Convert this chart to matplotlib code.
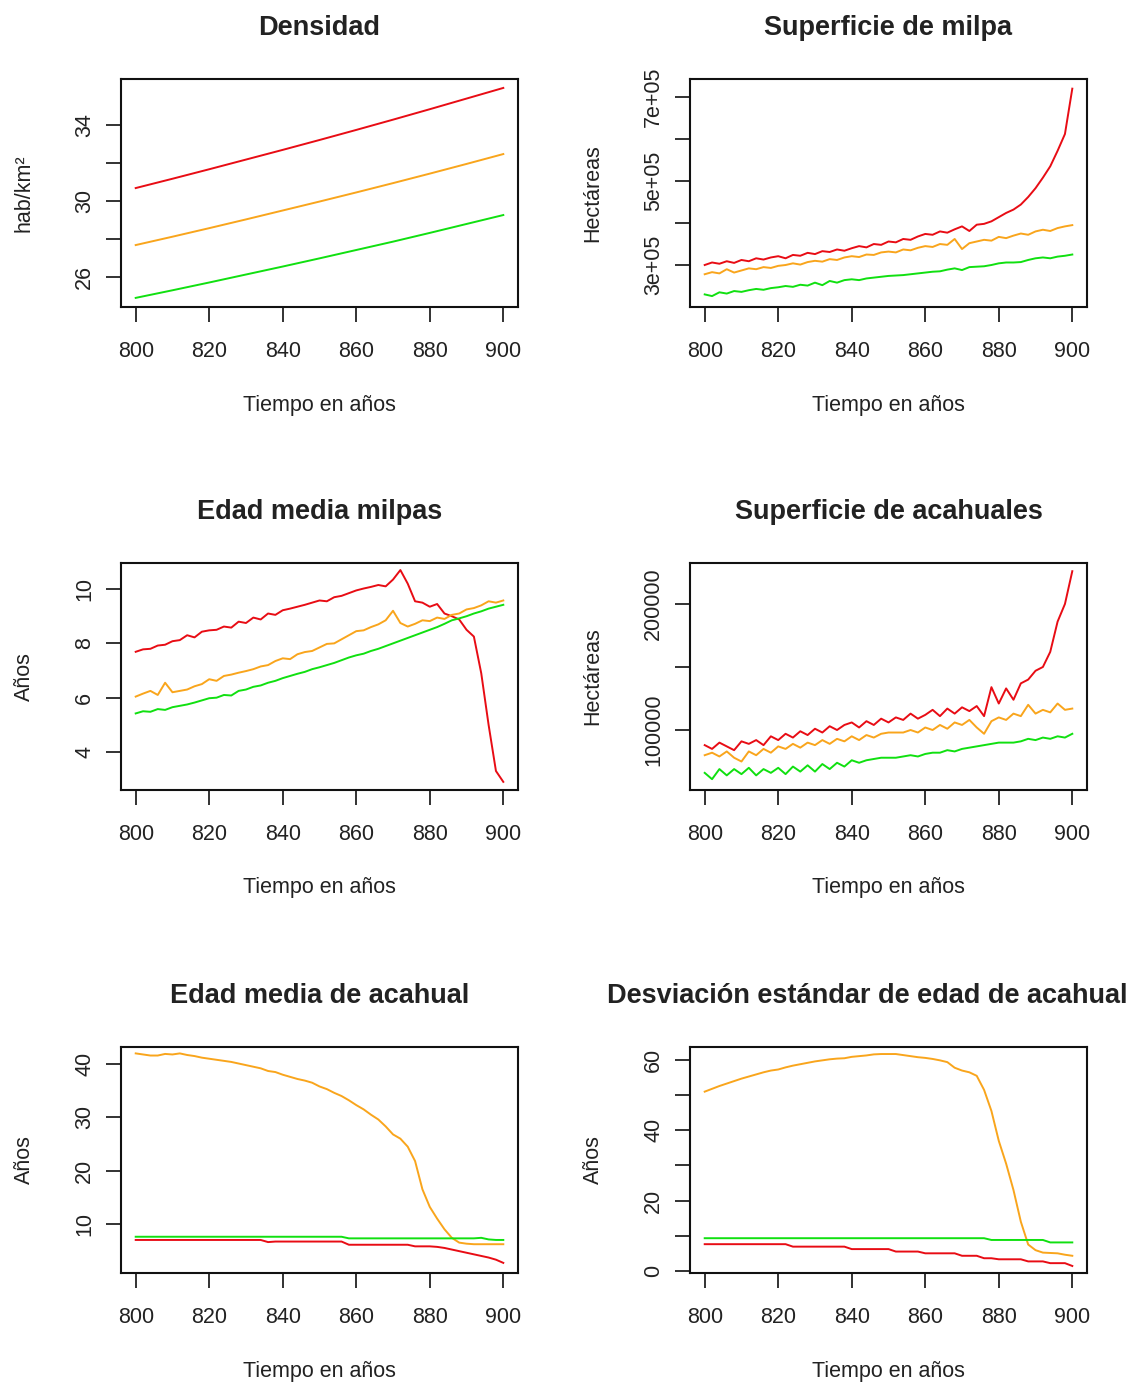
import numpy as np
from matplotlib import pyplot as plt

plt.rcParams['font.family'] = ['Liberation Sans', 'DejaVu Sans']

# time axis
years10 = [800, 810, 820, 830, 840, 850, 860, 870, 880, 890, 900]
years2 = np.arange(800, 901, 2)

# Densidad (hab/km2)
dens_red = [30.68, 31.17, 31.67, 32.18, 32.69, 33.21, 33.74, 34.28, 34.83, 35.39, 35.95]
dens_orange = [27.68, 28.12, 28.57, 29.03, 29.50, 29.97, 30.45, 30.94, 31.44, 31.95, 32.47]
dens_green = [24.90, 25.30, 25.71, 26.13, 26.55, 26.98, 27.42, 27.86, 28.32, 28.79, 29.26]

# Superficie de milpa (miles de ha)
milpa_red = [300, 306, 303, 309, 305, 312, 309, 316, 313, 318,
             321, 316, 324, 322, 329, 326, 333, 331, 337, 334,
             340, 345, 342, 350, 348, 356, 354, 362, 360, 368,
             374, 372, 380, 377, 385, 392, 381, 396, 398, 404,
             414, 424, 432, 444, 462, 483, 508, 535, 572, 612,
             720]
milpa_orange = [278, 283, 280, 290, 282, 287, 292, 290, 295, 293,
                298, 300, 304, 301, 307, 310, 308, 314, 312, 318,
                321, 319, 325, 324, 330, 332, 330, 337, 335, 341,
                345, 343, 350, 348, 362, 338, 352, 356, 360, 358,
                367, 364, 370, 375, 372, 380, 384, 381, 388, 392,
                395]
milpa_green = [230, 226, 235, 232, 238, 236, 240, 243, 241, 245,
               247, 250, 248, 253, 251, 258, 252, 262, 258, 264,
               266, 264, 268, 270, 272, 274, 275, 276, 278, 280,
               282, 284, 285, 289, 292, 288, 295, 296, 297, 300,
               304, 306, 306, 307, 312, 316, 318, 316, 320, 322,
               325]

# Edad media milpas (años)
emil_red = [7.69, 7.78, 7.80, 7.92, 7.95, 8.08, 8.12, 8.30, 8.22, 8.43,
            8.48, 8.50, 8.62, 8.58, 8.80, 8.75, 8.95, 8.88, 9.10, 9.05,
            9.22, 9.28, 9.35, 9.42, 9.50, 9.58, 9.55, 9.70, 9.75, 9.85,
            9.95, 10.02, 10.08, 10.15, 10.10, 10.35, 10.70, 10.20, 9.55, 9.50,
            9.35, 9.45, 9.10, 9.00, 8.88, 8.50, 8.25, 6.90, 5.00, 3.30,
            2.90]
emil_orange = [6.04, 6.15, 6.25, 6.10, 6.55, 6.20, 6.25, 6.30, 6.42, 6.50,
               6.68, 6.62, 6.80, 6.85, 6.92, 6.98, 7.05, 7.15, 7.20, 7.35,
               7.45, 7.42, 7.60, 7.68, 7.72, 7.85, 7.98, 8.00, 8.15, 8.30,
               8.45, 8.48, 8.60, 8.70, 8.85, 9.20, 8.75, 8.62, 8.72, 8.85,
               8.82, 8.95, 8.90, 9.05, 9.10, 9.25, 9.30, 9.40, 9.55, 9.50,
               9.58]
emil_green = [5.42, 5.50, 5.48, 5.58, 5.55, 5.65, 5.70, 5.75, 5.82, 5.90,
              5.98, 6.00, 6.10, 6.08, 6.25, 6.30, 6.40, 6.45, 6.55, 6.62,
              6.72, 6.80, 6.88, 6.95, 7.05, 7.12, 7.20, 7.28, 7.38, 7.48,
              7.56, 7.62, 7.72, 7.80, 7.90, 8.00, 8.10, 8.20, 8.30, 8.40,
              8.50, 8.60, 8.72, 8.85, 8.92, 9.00, 9.10, 9.18, 9.28, 9.35,
              9.42]

# Superficie de acahuales (miles de ha)
acah_red = [88, 85, 90, 87, 84, 91, 89, 92, 88, 95,
            92, 97, 94, 99, 96, 101, 98, 103, 100, 104,
            106, 102, 107, 104, 109, 106, 110, 108, 113, 109,
            112, 116, 111, 117, 113, 118, 115, 119, 111, 134,
            121, 133, 124, 137, 140, 147, 150, 162, 186, 200,
            226]
acah_orange = [80, 82, 79, 83, 78, 75, 83, 80, 85, 82,
               87, 85, 89, 86, 90, 88, 92, 89, 93, 91,
               95, 92, 96, 94, 97, 98, 98, 98, 100, 98,
               102, 100, 104, 101, 106, 104, 108, 102, 97, 107,
               110, 108, 113, 111, 120, 113, 116, 114, 121, 116,
               117]
acah_green = [66, 61, 69, 64, 69, 65, 70, 64, 69, 66,
              70, 65, 71, 67, 72, 67, 73, 69, 74, 71,
              76, 74, 76, 77, 78, 78, 78, 79, 80, 79,
              81, 82, 82, 84, 83, 85, 86, 87, 88, 89,
              90, 90, 90, 91, 93, 92, 94, 93, 95, 94,
              97]

# Edad media de acahual (años)
eaca_orange = [42.0, 41.8, 41.6, 41.6, 41.9, 41.8, 42.0, 41.7, 41.5, 41.2,
               41.0, 40.8, 40.6, 40.4, 40.1, 39.8, 39.5, 39.2, 38.7, 38.5,
               38.0, 37.6, 37.2, 36.9, 36.5, 35.8, 35.3, 34.6, 34.0, 33.2,
               32.3, 31.5, 30.5, 29.6, 28.3, 26.8, 26.0, 24.5, 21.8, 16.5,
               13.2, 11.0, 9.0, 7.4, 6.5, 6.3, 6.2, 6.2, 6.2, 6.2,
               6.2]
eaca_green = [7.6, 7.6, 7.6, 7.6, 7.6, 7.6, 7.6, 7.6, 7.6, 7.6,
              7.6, 7.6, 7.6, 7.6, 7.6, 7.6, 7.6, 7.6, 7.6, 7.6,
              7.6, 7.6, 7.6, 7.6, 7.6, 7.6, 7.6, 7.6, 7.6, 7.3,
              7.3, 7.3, 7.3, 7.3, 7.3, 7.3, 7.3, 7.3, 7.3, 7.3,
              7.3, 7.3, 7.3, 7.3, 7.3, 7.3, 7.3, 7.4, 7.1, 7.0,
              7.0]
eaca_red = [7.0, 7.0, 7.0, 7.0, 7.0, 7.0, 7.0, 7.0, 7.0, 7.0,
            7.0, 7.0, 7.0, 7.0, 7.0, 7.0, 7.0, 7.0, 6.6, 6.7,
            6.7, 6.7, 6.7, 6.7, 6.7, 6.7, 6.7, 6.7, 6.7, 6.1,
            6.1, 6.1, 6.1, 6.1, 6.1, 6.1, 6.1, 6.1, 5.8, 5.8,
            5.8, 5.7, 5.5, 5.2, 4.9, 4.6, 4.3, 4.0, 3.7, 3.3,
            2.7]

# Desviacion estandar de edad de acahual (años)
desv_orange = [51.0, 51.8, 52.6, 53.3, 54.0, 54.7, 55.3, 55.9, 56.5, 57.0,
               57.3, 57.9, 58.4, 58.8, 59.2, 59.6, 59.9, 60.2, 60.4, 60.5,
               60.9, 61.1, 61.3, 61.6, 61.7, 61.7, 61.7, 61.4, 61.1, 60.8,
               60.6, 60.3, 59.9, 59.4, 57.8, 57.0, 56.5, 55.5, 51.5, 45.5,
               37.0, 30.5, 23.0, 14.0, 7.5, 5.9, 5.2, 5.1, 5.0, 4.6,
               4.3]
desv_green = [9.3, 9.3, 9.3, 9.3, 9.3, 9.3, 9.3, 9.3, 9.3, 9.3,
              9.3, 9.3, 9.3, 9.3, 9.3, 9.3, 9.3, 9.3, 9.3, 9.3,
              9.3, 9.3, 9.3, 9.3, 9.3, 9.3, 9.3, 9.3, 9.3, 9.3,
              9.3, 9.3, 9.3, 9.3, 9.3, 9.3, 9.3, 9.3, 9.3, 8.8,
              8.8, 8.8, 8.8, 8.8, 8.8, 8.8, 8.8, 8.1, 8.1, 8.1,
              8.1]
desv_red = [7.6, 7.6, 7.6, 7.6, 7.6, 7.6, 7.6, 7.6, 7.6, 7.6,
            7.6, 7.6, 6.9, 6.9, 6.9, 6.9, 6.9, 6.9, 6.9, 6.9,
            6.2, 6.2, 6.2, 6.2, 6.2, 6.2, 5.5, 5.5, 5.5, 5.5,
            5.0, 5.0, 5.0, 5.0, 5.0, 4.3, 4.3, 4.3, 3.6, 3.6,
            3.3, 3.3, 3.3, 3.3, 2.7, 2.7, 2.7, 2.2, 2.2, 2.2,
            1.4]

RED, ORANGE, GREEN = '#e80c14', '#f9a51c', '#10e010'
TXT = '#222222'

fig = plt.figure(figsize=(11.41, 13.87), dpi=100)

W, H = 1141, 1387
col_x = [121, 690]
row_y = [(79, 307), (563, 790), (1047, 1273)]
box_w = 397


def make_axes(col, row):
    top, bot = row_y[row]
    return fig.add_axes([col_x[col] / W, 1 - bot / H, box_w / W, (bot - top) / H])


def r_style(ax, title, ylabel, ylim, yticks, ylabels, title_x=0.5):
    ax.set_xlim(796, 904)
    ax.set_ylim(*ylim)
    ax.set_xticks(range(800, 901, 20))
    ax.set_yticks(yticks, ylabels, rotation=90, va='center')
    ax.tick_params(direction='out', length=10.5, width=1.3, labelsize=15.5,
                   colors=TXT, labelcolor=TXT)
    ax.tick_params(axis='x', pad=14)
    ax.tick_params(axis='y', pad=8)
    for s in ax.spines.values():
        s.set_linewidth(1.5)
        s.set_color('#111111')
    ax.set_title(title, fontsize=19.5, fontweight='bold', pad=32, color=TXT, x=title_x)
    ax.set_xlabel('Tiempo en años', fontsize=15.5, color=TXT)
    ax.set_ylabel(ylabel, fontsize=15.5, color=TXT)
    h = ax.get_position().height * H
    ax.xaxis.set_label_coords(0.5, -98 / h)
    ax.xaxis.label.set_va('center')
    ax.yaxis.set_label_coords(-97 / box_w, 0.5)
    ax.yaxis.label.set_va('center')


def lines(ax, x, r, o, g, scale=1.0):
    ax.plot(x, np.array(r) * scale, color=RED, lw=1.4)
    ax.plot(x, np.array(o) * scale, color=ORANGE, lw=1.4)
    ax.plot(x, np.array(g) * scale, color=GREEN, lw=1.4)


ax = make_axes(0, 0)
lines(ax, years10, dens_red, dens_orange, dens_green)
r_style(ax, 'Densidad', 'hab/km²', (24.42, 36.42),
        [26, 28, 30, 32, 34], ['26', '', '30', '', '34'])

ax = make_axes(1, 0)
lines(ax, years2, milpa_red, milpa_orange, milpa_green, 1000)
r_style(ax, 'Superficie de milpa', 'Hectáreas', (2.0e5, 7.43e5),
        [3e5, 4e5, 5e5, 6e5, 7e5], ['3e+05', '', '5e+05', '', '7e+05'])

ax = make_axes(0, 1)
lines(ax, years2, emil_red, emil_orange, emil_green)
r_style(ax, 'Edad media milpas', 'Años', (2.60, 10.96),
        [4, 6, 8, 10], ['4', '6', '8', '10'])

ax = make_axes(1, 1)
lines(ax, years2, acah_red, acah_orange, acah_green, 1000)
r_style(ax, 'Superficie de acahuales', 'Hectáreas', (52400, 232500),
        [100000, 150000, 200000], ['100000', '', '200000'])

ax = make_axes(0, 2)
lines(ax, years2, eaca_red, eaca_orange, eaca_green)
r_style(ax, 'Edad media de acahual', 'Años', (0.8, 43.2),
        [10, 20, 30, 40], ['10', '20', '30', '40'])

ax = make_axes(1, 2)
lines(ax, years2, desv_red, desv_orange, desv_green)
r_style(ax, 'Desviación estándar de edad de acahual', 'Años', (-0.6, 63.7),
        [0, 10, 20, 30, 40, 50, 60], ['0', '', '20', '', '40', '', '60'],
        title_x=0.447)

fig.savefig('out.png', dpi=100, facecolor='white')
